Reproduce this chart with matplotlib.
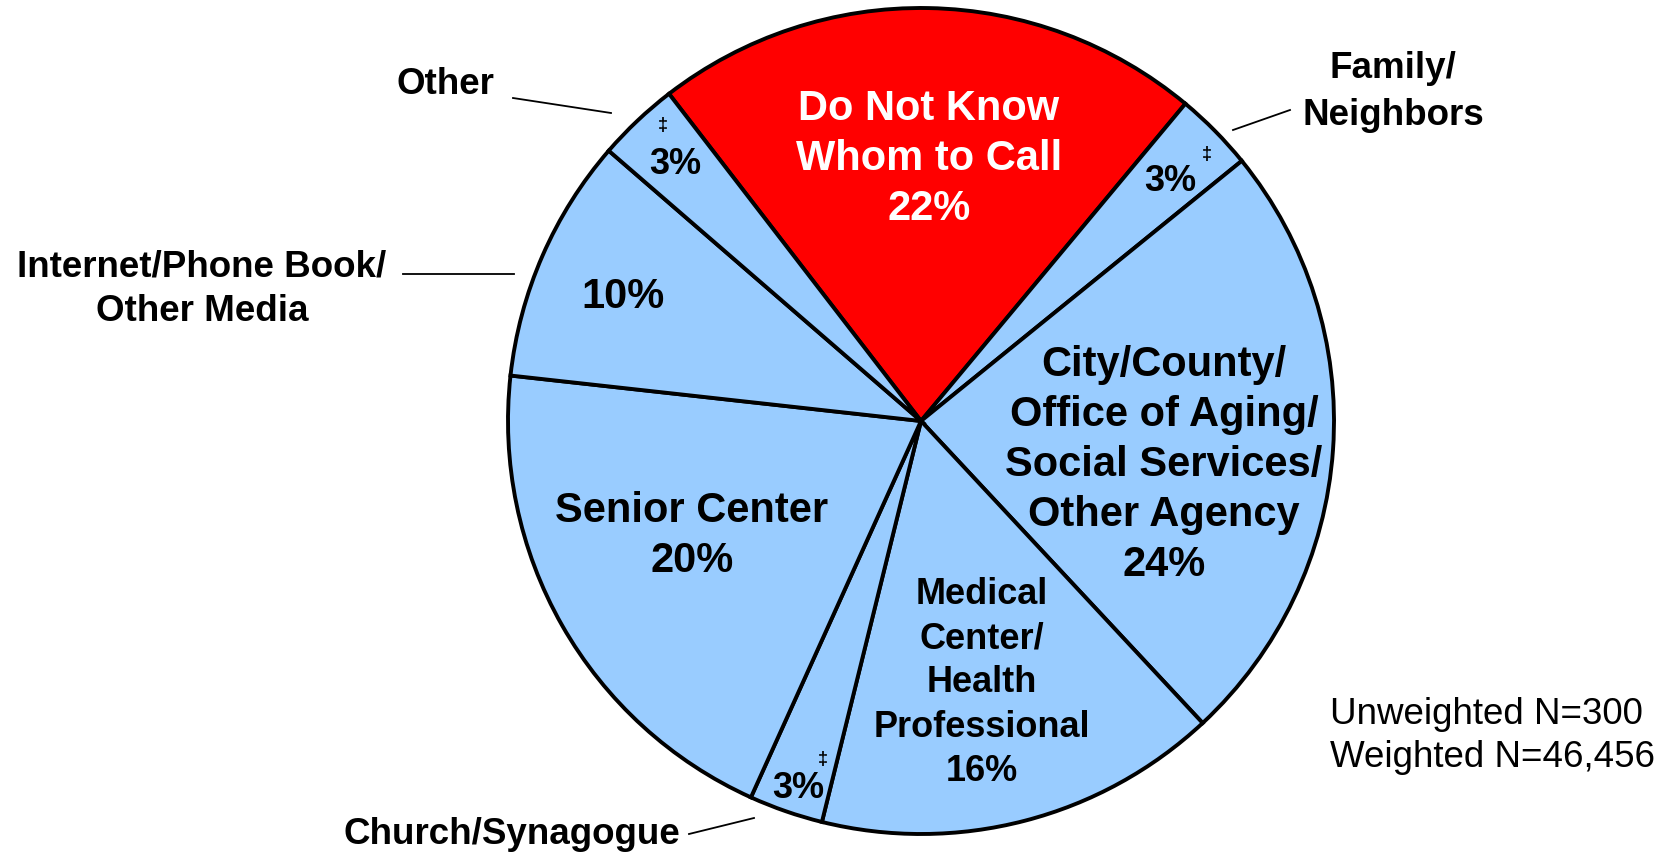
import matplotlib
matplotlib.use("Agg")
import matplotlib.pyplot as plt

# canvas size in pixels (figure is drawn 1:1 in pixel units)
W, H = 1664, 856

# slices, clockwise from the red one
categories = [
    "Do Not Know\nWhom to Call",
    "Family/\nNeighbors",
    "City/County/\nOffice of Aging/\nSocial Services/\nOther Agency",
    "Medical\nCenter/\nHealth\nProfessional",
    "Church/Synagogue",
    "Senior Center",
    "Internet/Phone Book/\nOther Media",
    "Other",
]
shares = [21.5, 3.1, 23.9, 15.8, 2.9, 20.0, 9.6, 3.2]
pct_labels = ["22%", "3%", "24%", "16%", "3%", "20%", "10%", "3%"]
flagged = [False, True, False, False, True, False, False, True]  # marked with ‡
sample_notes = ["Unweighted N=300", "Weighted N=46,456"]

slice_colors = ["#FF0000"] + ["#99CCFF"] * 7

plt.rcParams['font.family'] = ['Liberation Sans', 'DejaVu Sans']

fig = plt.figure(figsize=(W / 100, H / 100), dpi=100)
ax = fig.add_axes([0, 0, 1, 1])

cx, cy, rad = 921, 421, 413
ax.pie(shares, colors=slice_colors, startangle=127.6, counterclock=False,
       center=(cx, H - cy), radius=rad,
       wedgeprops=dict(edgecolor="black", linewidth=2.8))
ax.set_xlim(0, W)
ax.set_ylim(0, H)
ax.axis("off")


def put(x, y, s, **kw):
    # x, y given in image pixels (y measured from the top)
    ax.text(x, H - y, s, ha=kw.pop("ha", "center"), va=kw.pop("va", "center"), **kw)


# text inside the slices: (x, y, size, colour, linespacing, label lines shown inside?)
inner = {
    0: (929, 159, 30, "white", 1.33, True),
    2: (1164, 465, 30, "black", 1.33, True),
    3: (982, 683, 26, "black", 1.34, True),
    5: (692, 536, 30, "black", 1.34, True),
    6: (623, 297, 30, "black", 1.2, False),
    1: (1170, 181, 26, "black", 1.2, False),
    4: (798, 789, 26, "black", 1.2, False),
    7: (675, 164, 26, "black", 1.2, False),
}
for i, (x, y, size, col, ls, with_name) in inner.items():
    s = categories[i] + "\n" + pct_labels[i] if with_name else pct_labels[i]
    put(x, y, s, fontsize=size, fontweight="bold", color=col, linespacing=ls)

# double-dagger marks on the small slices
dagger_pos = {1: (1207, 154), 4: (823, 760), 7: (663, 125)}
for i, (x, y) in dagger_pos.items():
    if flagged[i]:
        put(x, y, "\u2021", fontsize=13, fontweight="bold")

# labels outside the pie with leader lines: (centre, linespacing, leader ends)
outer = {
    7: ((445, 84), 1.2, ((513, 98), (611, 113))),
    1: ((1393, 92), 1.44, ((1233, 130), (1290, 110))),
    6: ((202, 289), 1.35, ((403, 274), (514, 274))),
    4: ((512, 834), 1.2, ((689, 834), (754, 818))),
}
for i, ((x, y), ls, (p0, p1)) in outer.items():
    put(x, y, categories[i], fontsize=26.5, fontweight="bold", linespacing=ls)
    ax.plot([p0[0], p1[0]], [H - p0[1], H - p1[1]], color="black", lw=1.3)

put(1330, 736, "\n".join(sample_notes), ha="left", fontsize=26.5, linespacing=1.33)

fig.savefig("out.png", dpi=100)
